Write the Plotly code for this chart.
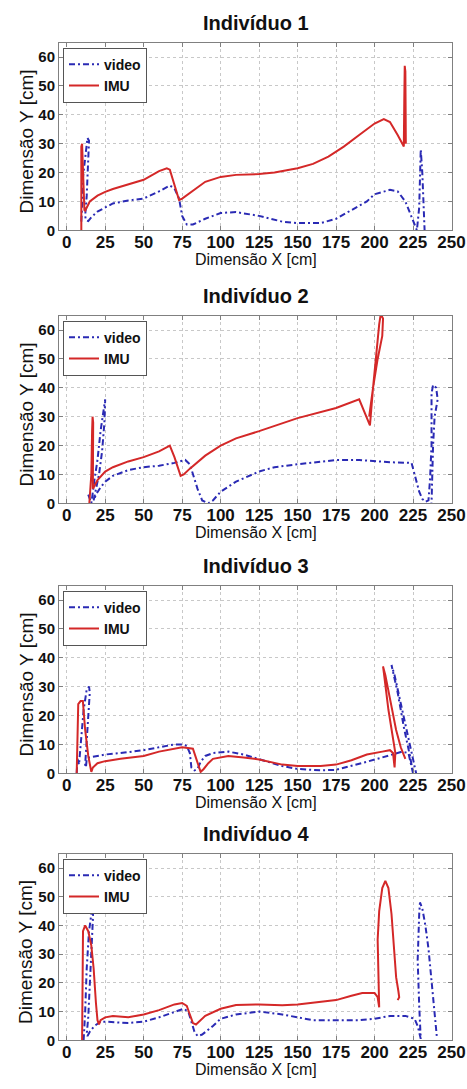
import plotly.graph_objects as go

# ---------------- data ----------------
titles = ["Indivíduo 1", "Indivíduo 2", "Indivíduo 3", "Indivíduo 4"]
series_names = ["video", "IMU"]
x_tick_vals = [0, 25, 50, 75, 100, 125, 150, 175, 200, 225, 250]
y_tick_vals = [0, 10, 20, 30, 40, 50, 60]
x_label = "Dimensão X [cm]"
y_label = "Dimensão Y [cm]"

ind1_video_x = [9.5, 10, 10.5, 12, 13.5, 14.5, 14, 13, 12, 12.5, 14, 16, 20, 25, 30, 40, 50, 60, 67, 70, 73, 75, 78, 82, 90, 100, 110, 125, 140, 150, 165, 175, 185, 195, 200, 210, 215, 220, 223, 226, 227.5, 229, 230, 231, 232, 232.5]
ind1_video_y = [3, 8, 18, 25, 32, 31, 22, 12, 5, 3.5, 3.2, 4.5, 6.5, 8, 9.3, 10.3, 11, 13.5, 15.5, 14.5, 11, 5, 2, 2, 4, 6, 6.3, 5, 3, 2.5, 2.5, 4, 7, 10, 12.5, 14, 13.5, 10, 6, 2, 0, 8, 28, 20, 5, 0]
ind1_imu_x = [9.5, 9.5, 10, 10.5, 11, 11.5, 12, 13, 15, 20, 25, 30, 40, 50, 60, 65, 67, 70, 73, 75, 80, 90, 100, 110, 125, 135, 150, 160, 170, 180, 190, 200, 206, 210, 215, 219, 219.3, 219.6, 220, 220.2, 220.3]
ind1_imu_y = [0, 29, 30, 20, 12, 7, 6.8, 8, 10, 12, 13.3, 14.3, 15.8, 17.5, 20.5, 21.5, 21, 16, 10.5, 11, 13, 16.8, 18.5, 19.2, 19.5, 20, 21.5, 23, 25.5, 29, 33, 37, 38.5, 37.5, 33, 29, 45, 57, 55, 40, 30]

ind2_video_x = [14, 15, 16, 18, 20, 22, 24, 25, 24.5, 23, 21, 19, 17.5, 19, 22, 25, 30, 40, 50, 60, 70, 77, 80, 85, 88, 92, 95, 100, 110, 125, 135, 150, 175, 190, 200, 210, 224, 226, 229, 231, 233, 235, 236, 237, 237, 238, 240, 241, 239, 238, 237.5, 237]
ind2_video_y = [3, 1, 0, 8, 15, 25, 33, 36, 28, 18, 10, 4, 1, 3, 5.5, 7.5, 9.5, 11.5, 12.5, 13, 14, 15, 13.5, 5, 1, 0, 1, 4, 7.5, 11, 12.5, 13.5, 15, 15, 14.5, 14.2, 14, 10, 4, 1.5, 0.5, 1, 8, 20, 38, 41, 40, 36, 30, 20, 8, 0]
ind2_imu_x = [14.7, 16, 16.5, 16.8, 17.2, 17.2, 17, 18, 20, 25, 30, 40, 50, 60, 67, 70, 74, 76, 80, 90, 100, 110, 125, 150, 175, 190, 194, 197, 199, 201, 203, 204, 205.5, 205, 202, 199, 197, 196.5]
ind2_imu_y = [0, 10, 25, 30, 28, 15, 5, 6, 8, 11, 12.5, 14.5, 16, 18, 20, 16, 9.5, 10, 12, 16.5, 20, 22.5, 25, 29.5, 33, 36, 31, 27, 40, 52, 62, 65.5, 64, 58, 50, 40, 32, 30]

ind3_video_x = [6.5, 7, 8, 9, 11, 13, 14.5, 15, 14, 13, 12, 12.5, 13, 15, 20, 25, 35, 50, 60, 70, 75, 78, 80, 81, 83, 85, 87, 90, 95, 105, 115, 125, 140, 150, 165, 175, 185, 195, 205, 212, 218, 222, 224, 225, 223, 219, 215, 211, 213, 217, 221, 224, 226, 227]
ind3_video_y = [0, 5, 3, 10, 22, 29, 30, 28, 20, 10, 3, 2, 5, 5.5, 6, 6.5, 7, 8, 9, 10, 10, 9.5, 7, 2, 1, 1.5, 4, 6, 7, 7.5, 6.5, 5, 2.5, 1.5, 1, 1.2, 2.5, 4, 5.5, 6.5, 7.5, 7, 3, 0, 6, 16, 28, 37.5, 34, 24, 14, 7, 2, 0]
ind3_imu_x = [6.5, 7, 7.5, 9, 10.5, 12, 14, 16, 17, 20, 25, 35, 50, 60, 75, 82, 85, 87, 89, 92, 95, 105, 115, 125, 140, 150, 165, 175, 185, 195, 205, 210, 212, 213, 213.5, 212, 209, 206, 205.5, 207, 210, 214, 217, 220]
ind3_imu_y = [0, 15, 24, 25, 25, 15, 6, 0.5, 2, 3.5, 4.2, 5, 6, 7.5, 9, 8.5, 4, 0.5, 1.5, 3.5, 5, 6, 5.5, 4.8, 3, 2.5, 2.5, 3, 4.5, 6.5, 7.5, 8, 7, 2, 7, 12, 22, 35, 37, 34, 26, 15, 9, 5]

ind4_video_x = [11, 12, 13, 14.5, 16, 17.3, 17, 16, 15, 14, 13, 13.5, 15, 18, 22, 25, 40, 50, 60, 70, 76, 79, 81, 83, 85, 88, 95, 100, 110, 125, 140, 150, 160, 175, 190, 200, 210, 220, 226, 228, 229.5, 230, 229, 228, 229, 229.5, 231, 233, 235, 237, 239, 240.5]
ind4_video_y = [0, 10, 25, 38, 44, 47, 42, 30, 18, 8, 2, 1.5, 3, 5, 6.5, 6.5, 6, 6.5, 8, 10, 11, 10, 6, 3, 1.5, 2, 5, 7.5, 9, 10, 9, 8, 7, 7, 7, 7.5, 8.5, 8.5, 7.5, 5, 2, 0.5, 12, 28, 44, 48, 46, 40, 32, 20, 8, 1]
ind4_imu_x = [10, 10.3, 10.6, 12, 14, 16, 17.5, 19, 20, 21, 22, 25, 30, 40, 50, 60, 70, 75, 78, 80, 82, 84, 87, 90, 100, 110, 125, 140, 150, 165, 175, 185, 192, 200, 202, 203, 202.5, 202, 203, 205, 207, 209, 211, 213, 214, 215.5, 216, 215]
ind4_imu_y = [0, 20, 38, 40, 38, 33, 25, 13, 7, 5.5, 7, 8, 8.5, 8, 9, 10.5, 12.5, 13, 12, 9, 6, 5.5, 7, 8.5, 11, 12.3, 12.5, 12.2, 12.5, 13.3, 14, 15.5, 16.5, 16.5, 15, 11.5, 20, 35, 45, 53, 55.5, 53, 44, 30, 22, 17, 15, 14]

video_x = [ind1_video_x, ind2_video_x, ind3_video_x, ind4_video_x]
video_y = [ind1_video_y, ind2_video_y, ind3_video_y, ind4_video_y]
imu_x = [ind1_imu_x, ind2_imu_x, ind3_imu_x, ind4_imu_x]
imu_y = [ind1_imu_y, ind2_imu_y, ind3_imu_y, ind4_imu_y]

# ---------------- layout ----------------
W, H = 467, 1089
PLOT_L, PLOT_R = 59, 452          # plot-area edges in picture pixels
ML = PLOT_L
MR = W - PLOT_R
PW = PLOT_R - PLOT_L
panel_top = [43, 318, 590, 860]
panel_bot = [232, 507, 779, 1048]

BLUE = "#2a2ab4"
RED = "#d42828"
FONT = "Liberation Sans, Arial, sans-serif"

def py2p(py):
    return (H - py) / H

def px2p(px):
    return (px - PLOT_L) / PW

fig = go.Figure()
layout = dict(
    width=W, height=H,
    margin=dict(l=ML, r=MR, t=0, b=0, pad=0),
    paper_bgcolor="white", plot_bgcolor="white",
    font=dict(family=FONT, color="#111"),
    annotations=[],
)

for i in range(4):
    sfx = "" if i == 0 else str(i + 1)
    leg = "legend" + sfx
    fig.add_trace(go.Scatter(
        x=video_x[i], y=video_y[i], mode="lines", name=series_names[0],
        line=dict(color=BLUE, width=2, dash="6px,3px,2px,3px"),
        xaxis="x" + sfx, yaxis="y" + sfx, legend=leg))
    fig.add_trace(go.Scatter(
        x=imu_x[i], y=imu_y[i], mode="lines", name=series_names[1],
        line=dict(color=RED, width=2),
        xaxis="x" + sfx, yaxis="y" + sfx, legend=leg))

    axcommon = dict(
        showline=True, linecolor="#808080", linewidth=1, mirror="ticks",
        ticks="inside", ticklen=4, tickcolor="#808080",
        showgrid=True, gridcolor="#c8c8c8", griddash="dot", gridwidth=1,
        zeroline=False, fixedrange=True,
    )
    layout["xaxis" + sfx] = dict(
        axcommon, domain=[0, 1], range=[-5, 250.3], tickvals=x_tick_vals,
        anchor="y" + sfx, ticklabelstandoff=-4, tickangle=0,
        ticklabeloverflow="allow",
        tickfont=dict(family=FONT, size=17, weight="bold", color="#111"),
    )
    layout["yaxis" + sfx] = dict(
        axcommon, domain=[py2p(panel_bot[i]), py2p(panel_top[i])],
        range=[0, 65], tickvals=y_tick_vals, anchor="x" + sfx,
        tickfont=dict(family=FONT, size=15, weight="bold", color="#111"),
    )
    layout[leg] = dict(
        x=px2p(63), y=py2p(panel_top[i] + 5), xanchor="left", yanchor="top",
        xref="paper", yref="paper",
        bgcolor="white", bordercolor="#555", borderwidth=1,
        font=dict(family=FONT, size=14, weight="bold", color="#111"),
        itemwidth=30, tracegroupgap=0,
    )
    layout["annotations"].append(dict(
        text=titles[i], x=0.5, y=py2p(panel_top[i] - 20), xref="paper", yref="paper",
        xanchor="center", yanchor="middle", showarrow=False,
        font=dict(family=FONT, size=20, weight="bold", color="#111")))
    layout["annotations"].append(dict(
        text=x_label, x=0.5, y=py2p(panel_bot[i] + 29), xref="paper", yref="paper",
        xanchor="center", yanchor="middle", showarrow=False,
        font=dict(family=FONT, size=16, color="#111")))
    layout["annotations"].append(dict(
        text=y_label, x=px2p(26), y=py2p((panel_top[i] + panel_bot[i]) / 2 + 5),
        xref="paper", yref="paper", textangle=-90,
        xanchor="center", yanchor="middle", showarrow=False,
        font=dict(family=FONT, size=19, color="#111")))

fig.update_layout(**layout)
fig.write_html("out.html", config={"displayModeBar": False},
               post_script="document.body.style.margin='0';")
